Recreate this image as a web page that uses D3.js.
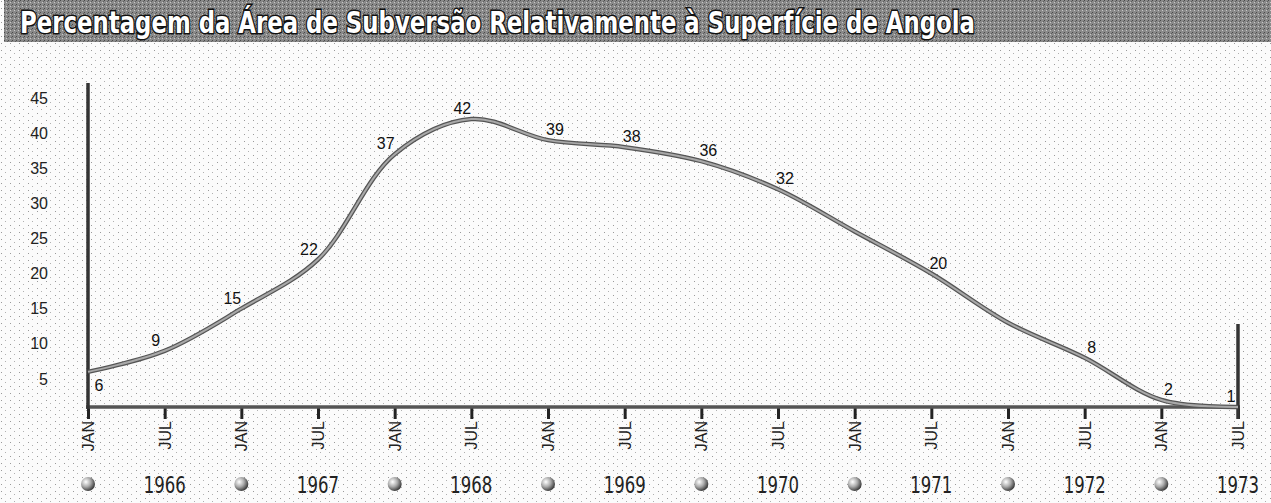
<!DOCTYPE html>
<html>
<title>Angola</title>
<meta charset="UTF-8">
<script type="text/javascript" src="https://d3js.org/d3.v7.min.js"></script>
<style type="text/css">
	body {
		margin:0;
		background:#fff;
	}
	.tickLabel {
		font-family: "Liberation Sans", Arial, sans-serif;
		font-size: 16px;
		fill: #222;
	}
	#yAxis text {
		font-family: "Liberation Sans", Arial, sans-serif;
		font-size: 16px;
		fill: #222;
	}
	.valueLabel {
		font-family: "Liberation Sans", Arial, sans-serif;
		font-size: 16px;
		fill: #111;
	}
	.year {
		font-family: "Liberation Sans Narrow", "DejaVu Sans Condensed", sans-serif;
		font-size: 23px;
		fill: #222;
	}
</style>
<body>
	<svg id="viz"></svg>
</body>
<script type="text/javascript">

	var title = "Percentagem da Área de Subversão Relativamente à Superfície de Angola";
	// half-year ticks, JAN 1966 .. JUL 1973
	var months = ["JAN","JUL","JAN","JUL","JAN","JUL","JAN","JUL","JAN","JUL","JAN","JUL","JAN","JUL","JAN","JUL"];
	var years = [1966, 1967, 1968, 1969, 1970, 1971, 1972, 1973];
	var values = [6, 9, 15, 22, 37, 42, 39, 38, 36, 32, 26, 20, 13, 8, 2, 1];
	var shown = [true, true, true, true, true, true, true, true, true, true, false, true, false, true, true, true];
	var yTicks = [5, 10, 15, 20, 25, 30, 35, 40, 45];

	var width = 1271, height = 503;
	var left = 88, right = 1238;
	var axisY = 407;

	var svg = d3.select("#viz")
		.attr("width", width)
		.attr("height", height);

	var defs = svg.append("defs");

	// halftone speckle
	var pat = defs.append("pattern")
		.attr("id", "dots")
		.attr("width", 9).attr("height", 7)
		.attr("patternUnits", "userSpaceOnUse");
	pat.append("rect").attr("width", 9).attr("height", 7).attr("fill", "#fbfbfb");
	pat.append("rect").attr("x", 1).attr("y", 1).attr("width", 1).attr("height", 1).attr("fill", "#9a9a9a");
	pat.append("rect").attr("x", 5).attr("y", 4).attr("width", 1).attr("height", 1).attr("fill", "#b0b0b0");

	var pat2 = defs.append("pattern")
		.attr("id", "band")
		.attr("width", 4).attr("height", 4)
		.attr("patternUnits", "userSpaceOnUse");
	pat2.append("rect").attr("width", 4).attr("height", 4).attr("fill", "#8a8a8a");
	pat2.append("rect").attr("x", 0).attr("y", 0).attr("width", 1).attr("height", 1).attr("fill", "#4a4a4a");
	pat2.append("rect").attr("x", 2).attr("y", 2).attr("width", 1).attr("height", 1).attr("fill", "#c8c8c8");
	pat2.append("rect").attr("x", 3).attr("y", 1).attr("width", 1).attr("height", 1).attr("fill", "#606060");

	var grad = defs.append("radialGradient")
		.attr("id", "ball")
		.attr("cx", "35%").attr("cy", "35%").attr("r", "70%");
	grad.append("stop").attr("offset", "0%").attr("stop-color", "#fff");
	grad.append("stop").attr("offset", "50%").attr("stop-color", "#aaa");
	grad.append("stop").attr("offset", "100%").attr("stop-color", "#333");

	svg.append("rect")
		.attr("width", width).attr("height", height)
		.attr("fill", "url(#dots)");

	// title band
	svg.append("rect")
		.attr("x", 4).attr("y", 0)
		.attr("width", width - 4).attr("height", 42)
		.attr("fill", "url(#band)");

	svg.append("text")
		.attr("x", 20).attr("y", 33)
		.attr("textLength", 955)
		.attr("lengthAdjust", "spacingAndGlyphs")
		.style("font-family", "'DejaVu Sans Condensed', 'Liberation Sans Narrow', sans-serif")
		.style("font-weight", "bold")
		.style("font-size", "31px")
		.style("fill", "#fff")
		.style("stroke", "#111")
		.style("stroke-width", "3px")
		.style("paint-order", "stroke")
		.text(title);

	var xScale = d3.scaleLinear()
		.domain([0, months.length - 1])
		.range([left, right]);

	var yScale = d3.scaleLinear()
		.domain([0, 45])
		.range([414, 98]);

	// y axis labels
	var yAxis = d3.axisLeft(yScale)
		.tickValues(yTicks)
		.tickSize(0)
		.tickPadding(0);
	svg.append("g")
		.attr("id", "yAxis")
		.attr("transform", "translate(48,0)")
		.call(yAxis)
		.call(function(g){ g.select(".domain").remove(); });

	// x axis
	var xAxis = d3.axisBottom(xScale)
		.tickValues(d3.range(months.length))
		.tickSize(12)
		.tickFormat("");
	var gx = svg.append("g")
		.attr("transform", "translate(0," + axisY + ")")
		.call(xAxis);
	gx.select(".domain").remove();
	gx.selectAll(".tick line")
		.attr("stroke", "#222")
		.attr("stroke-width", 3);

	svg.append("line")
		.attr("x1", left - 2).attr("x2", right + 2)
		.attr("y1", axisY).attr("y2", axisY)
		.attr("stroke", "#555")
		.attr("stroke-width", 3.5);

	svg.append("line")
		.attr("x1", left).attr("x2", left)
		.attr("y1", 83).attr("y2", axisY + 2)
		.attr("stroke", "#333")
		.attr("stroke-width", 3.5);

	svg.append("line")
		.attr("x1", right).attr("x2", right)
		.attr("y1", 324).attr("y2", axisY + 12)
		.attr("stroke", "#333")
		.attr("stroke-width", 3.5);

	svg.selectAll(".tickLabel")
		.data(months)
		.enter().append("text")
		.attr("class", "tickLabel")
		.attr("text-anchor", "end")
		.attr("transform", function(d, i){
			return "translate(" + (xScale(i) + 6) + "," + (axisY + 14) + ") rotate(-90)";
		})
		.text(function(d){ return d; });

	// line
	var line = d3.line()
		.x(function(d, i){ return xScale(i); })
		.y(function(d){ return yScale(d); })
		.curve(d3.curveCatmullRom.alpha(0.5));

	svg.append("path")
		.datum(values)
		.attr("d", line)
		.attr("fill", "none")
		.attr("stroke", "#555")
		.attr("stroke-width", 4.5);
	svg.append("path")
		.datum(values)
		.attr("d", line)
		.attr("fill", "none")
		.attr("stroke", "#a8a8a8")
		.attr("stroke-width", 2);

	var labelled = values
		.map(function(v, i){ return {v: v, i: i}; })
		.filter(function(d){ return shown[d.i]; });

	svg.selectAll(".valueLabel")
		.data(labelled)
		.enter().append("text")
		.attr("class", "valueLabel")
		.attr("text-anchor", "middle")
		.attr("x", function(d){
			if (d.i == 0) return xScale(d.i) + 11;
			if (d.i == values.length - 1) return xScale(d.i) - 7;
			return xScale(d.i) + (d.v > values[d.i - 1] ? -9 : 7);
		})
		.attr("y", function(d){
			if (d.i == 0) return yScale(d.v) + 19;
			return yScale(d.v) - 5;
		})
		.text(function(d){ return d.v; });

	// year row
	svg.selectAll(".ballMark")
		.data(years)
		.enter().append("circle")
		.attr("class", "ballMark")
		.attr("cx", function(d, i){ return xScale(i * 2); })
		.attr("cy", 484)
		.attr("r", 7)
		.attr("fill", "url(#ball)");

	svg.selectAll(".year")
		.data(years)
		.enter().append("text")
		.attr("class", "year")
		.attr("text-anchor", "middle")
		.attr("textLength", 42)
		.attr("lengthAdjust", "spacingAndGlyphs")
		.attr("x", function(d, i){ return xScale(i * 2 + 1); })
		.attr("y", 493)
		.text(function(d){ return d; });

</script>
</html>
